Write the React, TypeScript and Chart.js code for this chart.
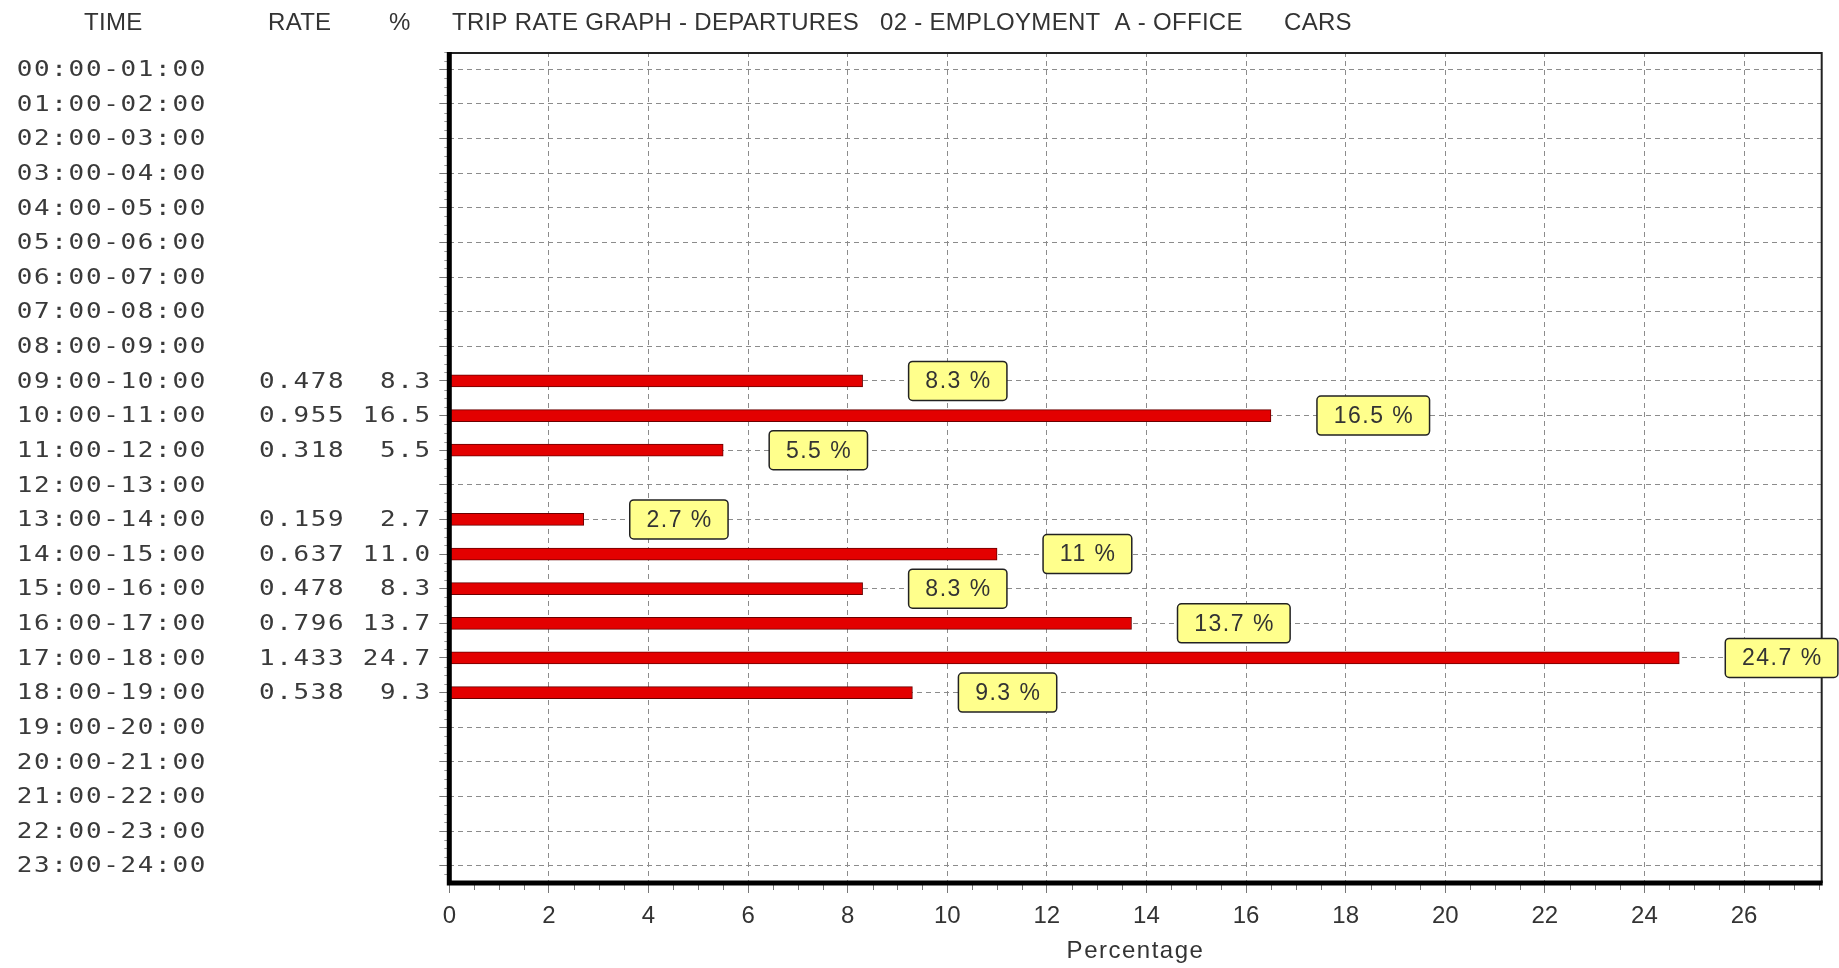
import React, { useEffect, useRef } from "react";
import { Chart, registerables } from "chart.js";

Chart.register(...registerables);

// ---------- data ----------
const timeLabels = [
  "00:00-01:00", "01:00-02:00", "02:00-03:00", "03:00-04:00", "04:00-05:00", "05:00-06:00",
  "06:00-07:00", "07:00-08:00", "08:00-09:00", "09:00-10:00", "10:00-11:00", "11:00-12:00",
  "12:00-13:00", "13:00-14:00", "14:00-15:00", "15:00-16:00", "16:00-17:00", "17:00-18:00",
  "18:00-19:00", "19:00-20:00", "20:00-21:00", "21:00-22:00", "22:00-23:00", "23:00-24:00",
];
const rateValues: (number | null)[] = [
  null, null, null, null, null, null, null, null, null,
  0.478, 0.955, 0.318, null, 0.159, 0.637, 0.478, 0.796, 1.433, 0.538,
  null, null, null, null, null,
];
const pctValues: (number | null)[] = [
  null, null, null, null, null, null, null, null, null,
  8.3, 16.5, 5.5, null, 2.7, 11.0, 8.3, 13.7, 24.7, 9.3,
  null, null, null, null, null,
];
const xTickValues = [0, 2, 4, 6, 8, 10, 12, 14, 16, 18, 20, 22, 24, 26];
const xMin = 0;
const xMax = 27.56;
const xMinorStep = 0.5;
const headerTime = "TIME";
const headerRate = "RATE";
const headerPct = "%";
const titleParts = ["TRIP RATE GRAPH - DEPARTURES", "02 - EMPLOYMENT  A - OFFICE", "CARS"];
const xAxisTitle = "Percentage";

// ---------- styles ----------
const W = 1839;
const H = 968;
const MONO = '22px "DejaVu Sans Mono"';
const SANS = '"Liberation Sans", Arial, sans-serif';
const PITCH = 17.3;
const COL0 = 24.5;
const TEXT = "#333";

function drawMono(ctx: CanvasRenderingContext2D, text: string, startIndex: number, y: number) {
  for (let i = 0; i < text.length; i++) {
    ctx.save();
    ctx.translate(COL0 + (startIndex + i) * PITCH, y);
    ctx.scale(1.18, 1);
    ctx.fillText(text[i], 0, 0);
    ctx.restore();
  }
}

const tripPlugin = {
  id: "tripPlugin",
  beforeDraw(chart: any) {
    const ctx = chart.ctx as CanvasRenderingContext2D;
    ctx.save();
    ctx.fillStyle = "#fff";
    ctx.fillRect(0, 0, chart.width, chart.height);
    ctx.restore();
  },
  afterDraw(chart: any) {
    const ctx = chart.ctx as CanvasRenderingContext2D;
    const area = chart.chartArea;
    const xs = chart.scales.x;
    const ys = chart.scales.y;
    ctx.save();

    // minor ticks on x axis
    ctx.strokeStyle = "#777";
    ctx.lineWidth = 1;
    ctx.beginPath();
    for (let v = xMin; v <= xMax + 1e-6; v += xMinorStep) {
      if (xTickValues.some((t) => Math.abs(t - v) < 1e-6)) continue;
      const px = Math.round(xs.getPixelForValue(v)) + 0.5;
      ctx.moveTo(px, area.bottom);
      ctx.lineTo(px, area.bottom + 7);
    }
    ctx.stroke();

    // minor ticks on y axis
    ctx.strokeStyle = "#999";
    ctx.beginPath();
    const rowH = ys.getPixelForValue(1) - ys.getPixelForValue(0);
    for (let i = -1; i < timeLabels.length; i++) {
      const base = ys.getPixelForValue(0) + i * rowH;
      for (let k = 1; k < 4; k++) {
        const py = Math.round(base + (rowH * k) / 4) + 0.5;
        if (py < area.top || py > area.bottom) continue;
        ctx.moveTo(area.left - 5, py);
        ctx.lineTo(area.left, py);
      }
    }
    ctx.stroke();

    // frame
    ctx.strokeStyle = "#222";
    ctx.lineWidth = 2;
    ctx.beginPath();
    ctx.moveTo(area.left, area.top + 1);
    ctx.lineTo(area.right, area.top + 1);
    ctx.lineTo(area.right, area.bottom);
    ctx.stroke();
    ctx.strokeStyle = "#000";
    ctx.lineWidth = 5;
    ctx.beginPath();
    ctx.moveTo(area.left, area.top);
    ctx.lineTo(area.left, area.bottom);
    ctx.lineTo(area.right + 1, area.bottom);
    ctx.stroke();

    // header
    ctx.fillStyle = TEXT;
    ctx.textBaseline = "middle";
    ctx.textAlign = "left";
    ctx.font = "24px " + SANS;
    (ctx as any).letterSpacing = "0.3px";
    ctx.fillText(headerTime, 84, 23);
    ctx.fillText(headerRate, 268, 23);
    ctx.fillText(headerPct, 389, 23);
    ctx.fillText(titleParts[0], 452, 23);
    ctx.fillText(titleParts[1], 880, 23);
    ctx.fillText(titleParts[2], 1284, 23);

    // left columns
    (ctx as any).letterSpacing = "0px";
    ctx.font = MONO;
    ctx.textAlign = "center";
    ctx.fillStyle = "#3a3a3a";
    timeLabels.forEach((t, i) => {
      const y = ys.getPixelForValue(i) + 1;
      drawMono(ctx, t, 0, y);
      const r = rateValues[i];
      if (r != null) drawMono(ctx, r.toFixed(3), 14, y);
      const p = pctValues[i];
      if (p != null) {
        const s = p.toFixed(1);
        drawMono(ctx, s, 24 - s.length, y);
      }
    });

    // x axis title
    ctx.fillStyle = TEXT;
    ctx.font = "24px " + SANS;
    (ctx as any).letterSpacing = "1.5px";
    ctx.textAlign = "center";
    ctx.fillText(xAxisTitle, (area.left + area.right) / 2, area.bottom + 68);

    // value boxes
    const meta = chart.getDatasetMeta(0);
    ctx.font = "23px " + SANS;
    meta.data.forEach((bar: any, i: number) => {
      const v = pctValues[i];
      if (v == null) return;
      const label = `${v} %`;
      const tw = ctx.measureText(label).width;
      const bw = tw + 32;
      const bh = 39;
      const bx = bar.x + 46;
      const by = bar.y - bh / 2;
      ctx.beginPath();
      (ctx as any).roundRect(bx, by, bw, bh, 4);
      ctx.fillStyle = "#ffff8c";
      ctx.fill();
      ctx.strokeStyle = "#222";
      ctx.lineWidth = 1.5;
      ctx.stroke();
      ctx.fillStyle = TEXT;
      ctx.fillText(label, bx + bw / 2 + 0.75, bar.y + 1);
    });

    ctx.restore();
  },
};

export default function App() {
  const ref = useRef<HTMLCanvasElement | null>(null);
  useEffect(() => {
    document.body.style.margin = "0";
    if (!ref.current) return;
    const chart = new Chart(ref.current, {
      type: "bar",
      data: {
        labels: timeLabels,
        datasets: [
          {
            data: pctValues as any,
            backgroundColor: "#e30000",
            borderColor: "#6a0000",
            borderWidth: 1,
            barThickness: 12,
            borderSkipped: false,
          },
        ],
      },
      options: {
        indexAxis: "y",
        responsive: false,
        animation: false,
        devicePixelRatio: 1,
        layout: { padding: { top: 52, right: 17.3, left: 0, bottom: 0 } },
        plugins: { legend: { display: false }, tooltip: { enabled: false }, title: { display: false } },
        scales: {
          x: {
            type: "linear",
            min: xMin,
            max: xMax,
            afterBuildTicks: (scale: any) => {
              scale.ticks = xTickValues.map((v) => ({ value: v }));
            },
            afterFit: (scale: any) => {
              scale.height = H - 883;
            },
            ticks: {
              stepSize: 2,
              color: TEXT,
              font: { family: SANS, size: 24 },
              padding: 9,
              maxRotation: 0,
              autoSkip: false,
            },
            grid: {
              color: "#8c8c8c",
              lineWidth: 1,
              tickLength: 10,
              tickColor: "#777",
              tickBorderDash: [],
              borderDash: [5, 4],
            } as any,
            border: { display: false, dash: [5, 4] },
          },
          y: {
            type: "category",
            offset: true,
            afterFit: (scale: any) => {
              scale.width = 449.3;
            },
            ticks: { display: false },
            grid: {
              offset: false,
              color: "#8c8c8c",
              lineWidth: 1,
              tickLength: 10,
              tickColor: "#777",
              tickBorderDash: [],
              borderDash: [5, 4],
            } as any,
            border: { display: false, dash: [5, 4] },
          },
        },
      } as any,
      plugins: [tripPlugin],
    });
    return () => chart.destroy();
  }, []);
  return (
    <div style={{ width: W, height: H }}>
      <canvas ref={ref} width={W} height={H} style={{ display: "block", width: W, height: H }} />
    </div>
  );
}
